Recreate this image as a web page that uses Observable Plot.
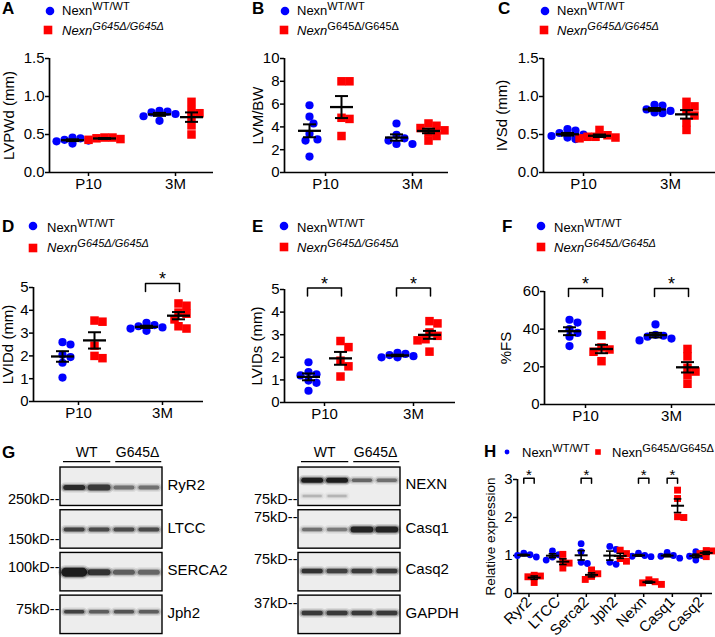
<!DOCTYPE html>
<html><head><meta charset="utf-8">
<script src="https://cdn.jsdelivr.net/npm/d3@7"></script>
<script src="https://cdn.jsdelivr.net/npm/@observablehq/plot@0.6"></script>
<style>
body{margin:0;background:#fff;}
#fig{position:relative;width:715px;height:637px;overflow:hidden;font-family:"Liberation Sans",Arial,sans-serif;color:#000;background:#fff;}
#fig > div{position:absolute;}
.lt{font-size:13px;line-height:13px;white-space:nowrap;}
.sp{font-size:11px;position:relative;top:-5px;}
</style></head>
<body><div id="fig"></div>
<script>
// ---------- DATA ----------
const groups = ["P10", "3M"];
// A: LVPWd (mm)
const aWT_P10 = [0.46, 0.45, 0.43, 0.41, 0.38, 0.42];
const aMut_P10 = [0.46, 0.44, 0.45, 0.43, 0.46];
const aWT_3M = [0.81, 0.80, 0.79, 0.77, 0.74, 0.68];
const aMut_3M = [0.93, 0.82, 0.78, 0.72, 0.62, 0.50];
// B: LVM/BW
const bWT_P10 = [5.9, 4.9, 4.3, 3.4, 2.9, 2.8, 1.4];
const bMut_P10 = [8.0, 8.0, 4.8, 4.7, 3.2];
const bWT_3M = [4.3, 3.3, 3.0, 2.8, 2.5, 2.5];
const bMut_3M = [4.3, 4.1, 3.9, 3.7, 3.5, 3.2, 2.8];
// C: IVSd (mm)
const cWT_P10 = [0.57, 0.55, 0.52, 0.50, 0.48, 0.46, 0.44];
const cMut_P10 = [0.56, 0.49, 0.47, 0.45, 0.46, 0.47];
const cWT_3M = [0.89, 0.88, 0.83, 0.81, 0.79, 0.78];
const cMut_3M = [0.93, 0.87, 0.82, 0.75, 0.66, 0.56];
// D: LVIDd (mm)
const dWT_P10 = [2.6, 2.5, 2.05, 1.95, 1.7, 1.05];
const dMut_P10 = [3.55, 3.5, 2.45, 2.0, 1.9];
const dWT_3M = [3.45, 3.35, 3.3, 3.25, 3.2, 3.1];
const dMut_3M = [4.3, 4.2, 3.9, 3.85, 3.6, 3.3, 3.2];
// E: LVIDs (mm)
const eWT_P10 = [1.78, 1.35, 1.25, 1.2, 0.97, 0.87, 0.52];
const eMut_P10 = [2.72, 2.45, 1.85, 1.6, 1.15];
const eWT_3M = [2.2, 2.15, 2.1, 2.05, 2.0, 2.0];
const eMut_3M = [3.6, 3.5, 3.1, 2.95, 2.8, 2.75, 2.25];
// F: %FS
const fWT_P10 = [45, 43.5, 40, 38, 36, 31];
const fMut_P10 = [36.8, 30.3, 29.2, 28, 23];
const fWT_3M = [42.5, 37, 36.5, 36, 35, 34];
const fMut_3M = [29.5, 25.5, 19.5, 17.5, 15.5, 11];
// significance brackets: group + bracket level (y value)
const dSig = [{group: "3M", level: 5.18}];
const eSig = [{group: "P10", level: 5.07}, {group: "3M", level: 5.07}];
const fSig = [{group: "P10", level: 61.6}, {group: "3M", level: 61.6}];
// H: relative expression
const hGenes = ["Ryr2", "LTCC", "Serca2", "Jph2", "Nexn", "Casq1", "Casq2"];
const hWT = [[1.0, 0.96, 1.02, 1.06], [1.12, 1.02, 0.96, 0.88], [1.31, 1.1, 0.82, 0.79], [1.24, 1.16, 0.82, 0.77], [1.06, 1.0, 0.98, 0.97], [1.08, 1.0, 0.98, 0.93], [1.1, 1.0, 0.98, 0.88]];
const hMut = [[0.48, 0.46, 0.44, 0.29], [1.03, 0.85, 0.8, 0.67], [0.62, 0.52, 0.45, 0.37], [1.14, 1.05, 0.92, 0.85], [0.36, 0.31, 0.28, 0.24], [2.72, 2.5, 2.02, 2.0], [1.13, 1.12, 1.05, 0.97]];
const hSig = [{gene: "Ryr2", level: 3.03}, {gene: "Serca2", level: 3.03}, {gene: "Nexn", level: 3.03}, {gene: "Casq1", level: 3.03}];
// G: western blots (band intensity 0-1, band thickness)
const lanesHeader = ["WT", "G645Δ"];
const blotLProteins = ["RyR2", "LTCC", "SERCA2", "Jph2"];
const blotLMarkers = ["250kD--", "150kD--", "100kD--", "75kD--"];
const blotLIntensity = [[0.9, 0.8, 0.5, 0.5], [0.75, 0.7, 0.7, 0.7], [1, 0.85, 0.6, 0.55], [0.75, 0.6, 0.65, 0.6]];
const blotLThick = [[5, 6, 4, 4], [4, 4, 4, 4], [9, 6, 5, 5], [3.5, 3.5, 3.5, 3.5]];
const blotRProteins = ["NEXN", "Casq1", "Casq2", "GAPDH"];
const blotRMarkers = ["75kD--", "75kD--", "75kD--", "37kD--"];
const blotRIntensity = [[1, 1, 0.55, 0.5], [0.5, 0.45, 0.95, 0.95], [0.85, 0.75, 0.8, 0.8], [0.8, 0.8, 0.8, 0.8]];
const blotRThick = [[5, 5, 3.5, 3.5], [3.5, 3.5, 6, 6], [4.5, 4.5, 4.5, 4.5], [4.5, 4.5, 4.5, 4.5]];
const blotRFaint = [0.2, 0.2, 0, 0]; // faint lower NEXN band

// ---------- HELPERS ----------
const BLUE = "#0000ff", RED = "#ff0000";
const FONT = "'Liberation Sans', Arial, sans-serif";
const fig = document.getElementById("fig");
function place(node, x, y) { const d = document.createElement("div"); d.style.left = x + "px"; d.style.top = y + "px"; d.appendChild(node); fig.appendChild(d); return d; }
function html(s, x, y, css) { const d = document.createElement("div"); d.innerHTML = s; d.style.cssText = `left:${x}px;top:${y}px;` + (css || ""); fig.appendChild(d); return d; }
function letter(ch, x, base) { html(ch, x, base - 14.4, `font:bold 17px ${FONT};line-height:17px;`); }
function sym(kind, cx, cy, s) {
  const el = kind === "circle"
    ? `<svg width="14" height="14"><circle cx="7" cy="7" r="${s}" fill="${BLUE}"/></svg>`
    : `<svg width="14" height="14"><rect x="${7 - s}" y="${7 - s}" width="${2 * s}" height="${2 * s}" fill="${RED}"/></svg>`;
  html(el, cx - 7, cy - 7, "line-height:0;");
}
function swarm(vals, c, ppuX, ppuY, r) {
  const order = d3.range(vals.length).sort((a, b) => vals[b] - vals[a]);
  const placed = [], out = [];
  for (const i of order) {
    const py = vals[i] * ppuY;
    let chosen = 0;
    for (const k of [0, 1, -1, 2, -2, 3, -3, 4, -4, 5, -5]) {
      const px = k * r * 0.95;
      if (placed.every(p => (p.px - px) ** 2 + (p.py - py) ** 2 >= (1.75 * r) ** 2)) { chosen = px; break; }
    }
    placed.push({px: chosen, py});
    out.push({v: vals[i], x: c + chosen / ppuX});
  }
  return out;
}
function statsOf(vals, c) {
  const m = d3.mean(vals), se = d3.deviation(vals) / Math.sqrt(vals.length);
  return {c, m, lo: m - se, hi: m + se};
}
const baseStyle = {background: "none", overflow: "visible", maxWidth: "none", color: "#000", fontFamily: FONT, fontSize: "14px"};

function dotPanel(o) {
  const ppu = o.px3M - o.pxP10;
  const xmin = 1 - (o.pxP10 - o.axisX) / ppu;
  const xmax = 2 + (o.xEnd - o.px3M) / ppu;
  const mL = o.axisX - o.svgL, mR = o.svgL + o.svgW - o.xEnd;
  const mT = o.yTop - o.svgT, mB = o.svgT + o.svgH - o.yBot;
  const ppuY = (o.yBot - o.yTop) / o.ymax;
  const off = 16 / ppu;
  const wtPts = [], mutPts = [], stats = [];
  [[o.data[0], 1, -1], [o.data[1], 1, 1], [o.data[2], 2, -1], [o.data[3], 2, 1]].forEach(([vals, g, s]) => {
    const c = g + s * off;
    const pts = swarm(vals, c, ppu, ppuY, 4.2);
    (s < 0 ? wtPts : mutPts).push(...pts);
    stats.push(statsOf(vals, c));
  });
  const hw = 11.5 / ppu, cw = 6.5 / ppu, drop = 8 / ppuY;
  const brLines = [], stars = [];
  (o.sig || []).forEach((b, k) => {
    const g = groups.indexOf(b.group) + 1;
    const x1 = g - 17 / ppu, x2 = g + 17 / ppu;
    brLines.push({k, x: x1, y: b.level - drop}, {k, x: x1, y: b.level}, {k, x: x2, y: b.level}, {k, x: x2, y: b.level - drop});
    stars.push({x: g, y: b.level + 4 / ppuY});
  });
  const plot = Plot.plot({
    width: o.svgW, height: o.svgH, marginLeft: mL, marginRight: mR, marginTop: mT, marginBottom: mB,
    x: {domain: [xmin, xmax], label: null},
    y: {domain: [0, o.ymax], label: null},
    style: baseStyle,
    marks: [
      Plot.ruleX([xmin], {strokeWidth: 1.7}),
      Plot.ruleY([0], {strokeWidth: 1.7}),
      Plot.axisY({ticks: o.yticks, tickFormat: o.fmt, tickSize: 4, tickPadding: 1, fontSize: 15, strokeWidth: 1.5, label: null}),
      Plot.axisX({ticks: [1, 2], tickFormat: d => groups[d - 1], tickSize: 4, tickPadding: 2, fontSize: 15, strokeWidth: 1.5, label: null}),
      Plot.text([o.ylabel], {frameAnchor: "left", rotate: -90, dx: o.labelDx, textAnchor: "middle", fontSize: 15}),
      Plot.dot(wtPts, {x: "x", y: "v", r: 4.1, fill: BLUE, symbol: "circle"}),
      Plot.dot(mutPts, {x: "x", y: "v", r: 4.8, fill: RED, symbol: "square"}),
      Plot.link(stats, {x1: d => d.c - hw, x2: d => d.c + hw, y1: "m", y2: "m", strokeWidth: 2.3}),
      Plot.link(stats, {x1: "c", x2: "c", y1: "lo", y2: "hi", strokeWidth: 2}),
      Plot.link(stats, {x1: d => d.c - cw, x2: d => d.c + cw, y1: "lo", y2: "lo", strokeWidth: 2}),
      Plot.link(stats, {x1: d => d.c - cw, x2: d => d.c + cw, y1: "hi", y2: "hi", strokeWidth: 2}),
      Plot.line(brLines, {x: "x", y: "y", z: "k", strokeWidth: 1.5}),
      Plot.text(stars, {x: "x", y: "y", text: () => "*", fontSize: 18, lineAnchor: "middle"})
    ]
  });
  place(plot, o.svgL, o.svgT);
}

const fmt1 = d3.format(".1f"), fmt0 = d3.format("d");
dotPanel({svgL: 0, svgT: 45, svgW: 235, svgH: 152, axisX: 49, xEnd: 213, pxP10: 88, px3M: 175, yTop: 58, yBot: 172, ymax: 1.5, yticks: [0, 0.5, 1, 1.5], fmt: fmt1, ylabel: "LVPWd (mm)", labelDx: -40, data: [aWT_P10, aMut_P10, aWT_3M, aMut_3M]});
dotPanel({svgL: 235, svgT: 45, svgW: 235, svgH: 152, axisX: 284, xEnd: 448, pxP10: 325, px3M: 412, yTop: 58, yBot: 172, ymax: 10, yticks: [0, 2, 4, 6, 8, 10], fmt: fmt0, ylabel: "LVM/BW", labelDx: -26, data: [bWT_P10, bMut_P10, bWT_3M, bMut_3M]});
dotPanel({svgL: 470, svgT: 45, svgW: 245, svgH: 152, axisX: 543, xEnd: 715, pxP10: 583, px3M: 670, yTop: 58, yBot: 172, ymax: 1.5, yticks: [0, 0.5, 1, 1.5], fmt: fmt1, ylabel: "IVSd (mm)", labelDx: -41, data: [cWT_P10, cMut_P10, cWT_3M, cMut_3M]});
dotPanel({svgL: 0, svgT: 262, svgW: 235, svgH: 163, axisX: 33, xEnd: 203, pxP10: 78, px3M: 162, yTop: 287, yBot: 401, ymax: 5, yticks: [0, 1, 2, 3, 4, 5], fmt: fmt0, ylabel: "LVIDd (mm)", labelDx: -25, data: [dWT_P10, dMut_P10, dWT_3M, dMut_3M], sig: dSig});
dotPanel({svgL: 235, svgT: 262, svgW: 235, svgH: 163, axisX: 284, xEnd: 455, pxP10: 324, px3M: 413, yTop: 289, yBot: 402, ymax: 5, yticks: [0, 1, 2, 3, 4, 5], fmt: fmt0, ylabel: "LVIDs (mm)", labelDx: -27, data: [eWT_P10, eMut_P10, eWT_3M, eMut_3M], sig: eSig});
dotPanel({svgL: 470, svgT: 262, svgW: 245, svgH: 163, axisX: 544, xEnd: 715, pxP10: 585, px3M: 671, yTop: 291, yBot: 404, ymax: 60, yticks: [0, 20, 40, 60], fmt: fmt0, ylabel: "%FS", labelDx: -38, data: [fWT_P10, fMut_P10, fWT_3M, fMut_3M], sig: fSig});

// ---------- Panel H ----------
(function () {
  const svgL = 470, svgT = 440, svgW = 245, svgH = 197, axisX = 517, xEnd = 712, yTop = 479, yBot = 593;
  const xmin = -0.4, xmax = 6.4, ppu = (xEnd - axisX) / (xmax - xmin), ppuY = (yBot - yTop) / 3;
  const off = 5.2 / ppu;
  const wtPts = [], mutPts = [], stats = [];
  hGenes.forEach((g, i) => {
    wtPts.push(...swarm(hWT[i], i - off, ppu, ppuY, 3.3));
    mutPts.push(...swarm(hMut[i], i + off, ppu, ppuY, 3.3));
    stats.push(statsOf(hWT[i], i - off), statsOf(hMut[i], i + off));
  });
  const hw = 6.5 / ppu, cw = 3.8 / ppu, drop = 5 / ppuY;
  const brLines = [], stars = [];
  hSig.forEach((b, k) => {
    const i = hGenes.indexOf(b.gene);
    brLines.push({k, x: i - off, y: b.level - drop}, {k, x: i - off, y: b.level}, {k, x: i + off, y: b.level}, {k, x: i + off, y: b.level - drop});
    stars.push({x: i, y: b.level + 3.5 / ppuY});
  });
  const plot = Plot.plot({
    width: svgW, height: svgH, marginLeft: axisX - svgL, marginRight: svgL + svgW - xEnd, marginTop: yTop - svgT, marginBottom: svgT + svgH - yBot,
    x: {domain: [xmin, xmax], label: null},
    y: {domain: [0, 3], label: null},
    style: baseStyle,
    marks: [
      Plot.ruleX([xmin], {strokeWidth: 1.7}),
      Plot.ruleY([0], {strokeWidth: 1.7}),
      Plot.axisY({ticks: [0, 1, 2, 3], tickFormat: fmt0, tickSize: 4, tickPadding: 1, fontSize: 15, strokeWidth: 1.5, label: null}),
      Plot.axisX({ticks: d3.range(hGenes.length), tickFormat: i => hGenes[i], tickRotate: -45, tickSize: 4, tickPadding: 2, fontSize: 15, strokeWidth: 1.5, label: null}),
      Plot.text(["Relative expression"], {frameAnchor: "left", rotate: -90, dx: -27, textAnchor: "middle", fontSize: 13.5}),
      Plot.dot(wtPts, {x: "x", y: "v", r: 3.4, fill: BLUE, symbol: "circle"}),
      Plot.dot(mutPts, {x: "x", y: "v", r: 3.9, fill: RED, symbol: "square"}),
      Plot.link(stats, {x1: d => d.c - hw, x2: d => d.c + hw, y1: "m", y2: "m", strokeWidth: 2}),
      Plot.link(stats, {x1: "c", x2: "c", y1: "lo", y2: "hi", strokeWidth: 1.6}),
      Plot.link(stats, {x1: d => d.c - cw, x2: d => d.c + cw, y1: "lo", y2: "lo", strokeWidth: 1.6}),
      Plot.link(stats, {x1: d => d.c - cw, x2: d => d.c + cw, y1: "hi", y2: "hi", strokeWidth: 1.6}),
      Plot.line(brLines, {x: "x", y: "y", z: "k", strokeWidth: 1.5}),
      Plot.text(stars, {x: "x", y: "y", text: () => "*", fontSize: 15, lineAnchor: "middle"})
    ]
  });
  place(plot, svgL, svgT);
})();

// ---------- Panel G (blots) ----------
function blot(o) {
  const svgT = 440, svgH = 197, top0 = 464.9, unit = 42.7;
  const mT = top0 - svgT, mB = svgT + svgH - (top0 + 4 * unit);
  const rows = o.proteins.map((p, i) => ({i, p, mk: o.markers[i]}));
  const bands = [];
  o.intensity.forEach((row, i) => row.forEach((v, j) => { if (v > 0) bands.push({lane: j + 1, y: i + 0.05 + 0.9 * o.bandPos[i], v, t: o.thick[i][j]}); }));
  (o.faint || []).forEach((v, j) => { if (v > 0) bands.push({lane: j + 1, y: 0.05 + 0.9 * o.faintPos, v, t: 2.5}); });
  const heads = [{a: 0.55, b: 2.45, m: 1.5, t: lanesHeader[0]}, {a: 2.65, b: 4.5, m: 3.55, t: lanesHeader[1]}];
  const plot = Plot.plot({
    width: o.svgW, height: svgH, marginLeft: o.boxL - o.svgL, marginRight: o.svgL + o.svgW - o.boxR, marginTop: mT, marginBottom: mB,
    x: {domain: [0.45, 4.55], axis: null},
    y: {domain: [0, 4], reverse: true, axis: null},
    style: baseStyle,
    marks: [
      Plot.rect(rows, {x1: () => 0.45, x2: () => 4.55, y1: d => d.i + 0.05, y2: d => d.i + 0.95, fill: "#ededed", stroke: "#000", strokeWidth: 1.4}),
      Plot.link(bands, {x1: d => d.lane - 0.36, x2: d => d.lane + 0.36, y1: "y", y2: "y", stroke: "#000", strokeWidth: d => d.t + 5, strokeOpacity: d => d.v * 0.14, strokeLinecap: "round"}),
      Plot.link(bands, {x1: d => d.lane - 0.36, x2: d => d.lane + 0.36, y1: "y", y2: "y", stroke: "#000", strokeWidth: d => d.t + 2, strokeOpacity: d => d.v * 0.3, strokeLinecap: "round"}),
      Plot.link(bands, {x1: d => d.lane - 0.34, x2: d => d.lane + 0.34, y1: "y", y2: "y", stroke: "#000", strokeWidth: "t", strokeOpacity: d => d.v * 0.8, strokeLinecap: "round"}),
      Plot.text(rows, {x: () => 4.55, y: d => d.i + o.labelPos[d.i], text: "p", textAnchor: "start", dx: 5, fontSize: 15}),
      Plot.text(rows, {x: () => 0.45, y: d => d.i + 0.05 + 0.9 * o.markerPos[d.i], text: "mk", textAnchor: "end", dx: -1, fontSize: 14.5}),
      Plot.link(heads, {x1: "a", x2: "b", y1: () => -0.09, y2: () => -0.09, strokeWidth: 1.3}),
      Plot.text(heads, {x: "m", y: () => -0.3, text: "t", fontSize: 14})
    ]
  });
  place(plot, o.svgL, svgT);
}
blot({svgL: 0, svgW: 230, boxL: 60, boxR: 162, proteins: blotLProteins, markers: blotLMarkers, intensity: blotLIntensity, thick: blotLThick,
  bandPos: [0.52, 0.5, 0.5, 0.42], markerPos: [0.83, 0.76, 0.37, 0.37], labelPos: [0.47, 0.48, 0.46, 0.45]});
blot({svgL: 230, svgW: 240, boxL: 298, boxR: 400, proteins: blotRProteins, markers: blotRMarkers, intensity: blotRIntensity, thick: blotRThick,
  faint: blotRFaint, faintPos: 0.74, bandPos: [0.33, 0.5, 0.47, 0.45], markerPos: [0.84, 0.18, 0.18, 0.21], labelPos: [0.45, 0.48, 0.44, 0.45]});

// ---------- Legends & panel letters ----------
const legends = [
  {L: "A", lx: 2, lb: 14, dot: [50, 11], sq: [48, 30], tx: 62, b1: 15, b2: 35, supIt: true},
  {L: "B", lx: 252, lb: 14, dot: [285, 11], sq: [284, 30], tx: 297, b1: 15, b2: 35, supIt: false},
  {L: "C", lx: 498, lb: 14, dot: [545, 11], sq: [544, 30], tx: 557, b1: 15, b2: 35, supIt: true},
  {L: "D", lx: 2, lb: 232, dot: [33, 226], sq: [33, 248], tx: 47, b1: 232, b2: 252, supIt: true},
  {L: "E", lx: 252, lb: 232, dot: [284, 226], sq: [284, 247], tx: 297, b1: 232, b2: 252, supIt: true},
  {L: "F", lx: 502, lb: 232, dot: [541, 226], sq: [541, 247], tx: 554, b1: 232, b2: 252, supIt: true}
];
legends.forEach(g => {
  letter(g.L, g.lx, g.lb);
  sym("circle", g.dot[0], g.dot[1], 4.3);
  sym("square", g.sq[0], g.sq[1], 4.3);
  html(`Nexn<span class="sp">WT/WT</span>`, g.tx, g.b1 - 11, "").className = "lt";
  html(`<i>Nexn</i><span class="sp" style="font-style:${g.supIt ? "italic" : "normal"}">G645Δ/G645Δ</span>`, g.tx, g.b2 - 11, "").className = "lt";
});
letter("G", 2, 458);
letter("H", 484, 457);
sym("circle", 507, 452, 2.4);
sym("square", 598, 452, 2.8);
html(`Nexn<span class="sp">WT/WT</span>`, 522, 457 - 11, "").className = "lt";
html(`Nexn<span class="sp">G645Δ/G645Δ</span>`, 612, 457 - 11, "").className = "lt";
</script>
</body></html>
